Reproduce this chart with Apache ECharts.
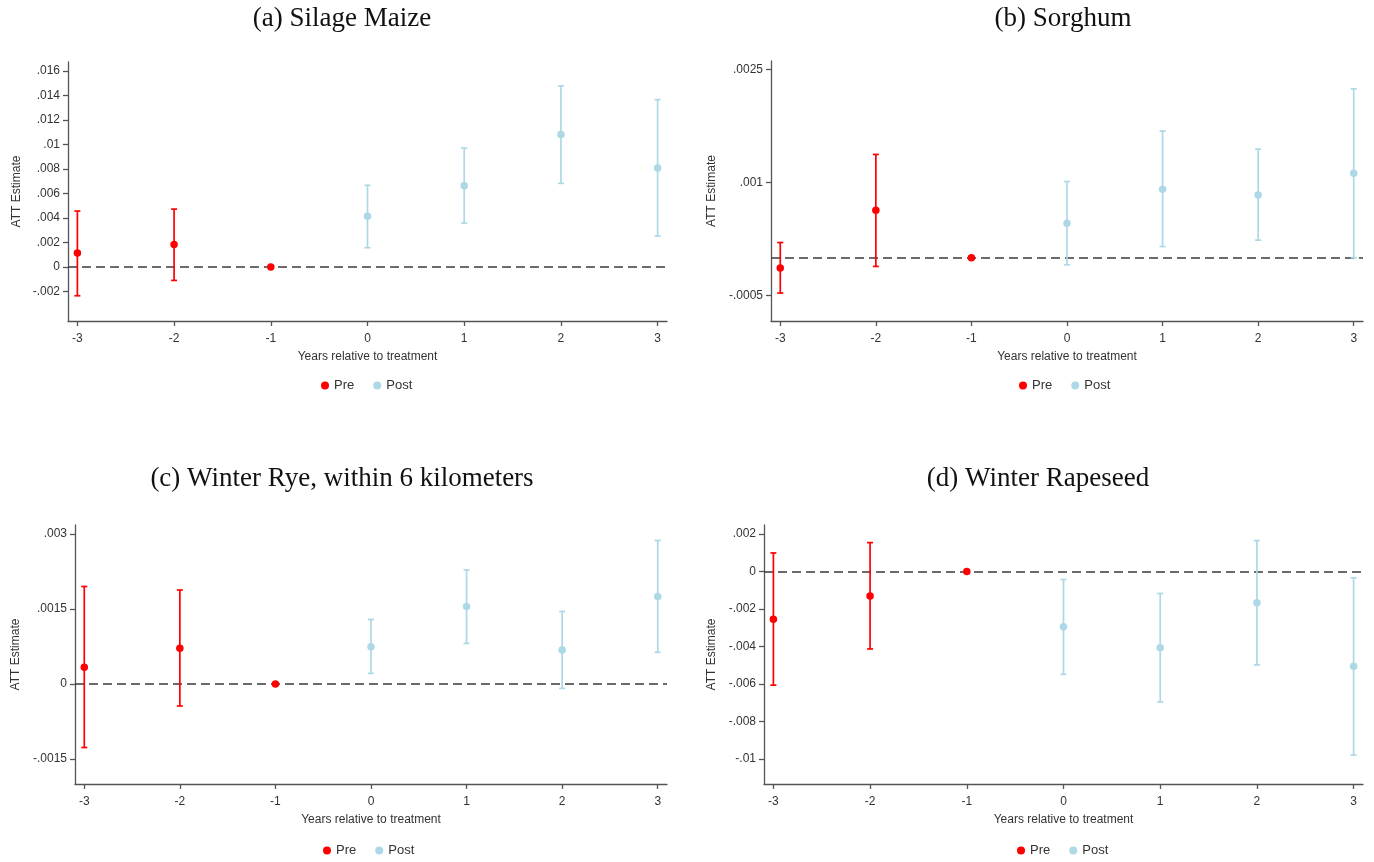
<!DOCTYPE html>
<html>
<head>
<meta charset="utf-8">
<script src="https://cdn.jsdelivr.net/npm/echarts@6/dist/echarts.min.js"></script>
<style>
  html, body { margin: 0; padding: 0; background: #fff; }
  #main { width: 1374px; height: 862px; }
</style>
</head>
<body>
<div id="main"></div>
<script>
// event-time (years relative to treatment)
var years = [-3, -2, -1, 0, 1, 2, 3];

// (a) Silage Maize
var maizeEst = [0.00114, 0.00185, 0, 0.00414, 0.00664, 0.01081, 0.00808];
var maizeLo  = [-0.00234, -0.00109, null, 0.00158, 0.00359, 0.00683, 0.00253];
var maizeHi  = [0.00457, 0.00473, null, 0.00667, 0.00971, 0.01478, 0.01366];

// (b) Sorghum
var sorghumEst = [-0.000138, 0.00063, 0, 0.000458, 0.000909, 0.000833, 0.00112];
var sorghumLo  = [-0.000469, -0.000116, null, -0.000094, 0.000148, 0.000233, 0.0];
var sorghumHi  = [0.000201, 0.00137, null, 0.00101, 0.00168, 0.00144, 0.00224];

// (c) Winter Rye, within 6 km
var ryeEst = [0.000333, 0.000713, 0, 0.000747, 0.00155, 0.00068, 0.00175];
var ryeLo  = [-0.00127, -0.00044, null, 0.000213, 0.000813, -0.000087, 0.000633];
var ryeHi  = [0.00195, 0.00188, null, 0.00129, 0.00228, 0.00145, 0.00287];

// (d) Winter Rapeseed
var rapeEst = [-0.00255, -0.0013, 0, -0.00295, -0.00406, -0.00167, -0.00505];
var rapeLo  = [-0.00606, -0.00413, null, -0.00548, -0.00695, -0.00498, -0.00979];
var rapeHi  = [0.00099, 0.00154, null, -0.00043, -0.00117, 0.00165, -0.00034];

// y tick labels
var maizeTicks   = [-0.002, 0, 0.002, 0.004, 0.006, 0.008, 0.01, 0.012, 0.014, 0.016];
var sorghumTicks = [-0.0005, 0.001, 0.0025];
var ryeTicks     = [-0.0015, 0, 0.0015, 0.003];
var rapeTicks    = [-0.01, -0.008, -0.006, -0.004, -0.002, 0, 0.002];

var PRE = '#ff0000', POST = '#add8e6';
var AXIS = '#555', TXT = '#333';
var SANS = '"Liberation Sans", Arial, sans-serif';

// stata-like number label: .016, -.0015, 0
function stataFmt(v) {
    var s = parseFloat(Number(v).toPrecision(6)).toString();
    return s.replace(/^(-?)0\./, '$1.');
}

var panels = [
    {title: '(a) Silage Maize', est: maizeEst, lo: maizeLo, hi: maizeHi, ticks: maizeTicks,
     grid: {left: 68, top: 62, width: 599, height: 259}, ymin: -0.0044, ymax: 0.01673,
     tx: 337, ty: 0, nameGap: 45, lx: 321, ly: 379},
    {title: '(b) Sorghum', est: sorghumEst, lo: sorghumLo, hi: sorghumHi, ticks: sorghumTicks,
     grid: {left: 771, top: 61, width: 592, height: 260}, ymin: -0.00084, ymax: 0.00261,
     tx: 1058, ty: 0, nameGap: 53, lx: 1019, ly: 379},
    {title: '(c) Winter Rye, within 6 kilometers', est: ryeEst, lo: ryeLo, hi: ryeHi, ticks: ryeTicks,
     grid: {left: 75, top: 525, width: 592, height: 259}, ymin: -0.002, ymax: 0.00318,
     tx: 337, ty: 460, nameGap: 53, lx: 323, ly: 844},
    {title: '(d) Winter Rapeseed', est: rapeEst, lo: rapeLo, hi: rapeHi, ticks: rapeTicks,
     grid: {left: 764, top: 525, width: 599, height: 259}, ymin: -0.01133, ymax: 0.00248,
     tx: 1033, ty: 460, nameGap: 46, lx: 1017, ly: 844}
];

function errBar(params, api) {
    var x = api.value(0);
    var p1 = api.coord([x, api.value(1)]);
    var p2 = api.coord([x, api.value(2)]);
    var st = {stroke: api.visual('color'), lineWidth: 1.7};
    return {
        type: 'group',
        children: [
            {type: 'line', shape: {x1: p1[0], y1: p1[1], x2: p2[0], y2: p2[1]}, style: st},
            {type: 'line', shape: {x1: p1[0] - 3, y1: p1[1], x2: p1[0] + 3, y2: p1[1]}, style: st},
            {type: 'line', shape: {x1: p2[0] - 3, y1: p2[1], x2: p2[0] + 3, y2: p2[1]}, style: st}
        ]
    };
}

var option = {
    animation: false,
    backgroundColor: '#fff',
    title: [], grid: [], xAxis: [], yAxis: [], legend: [], series: []
};

panels.forEach(function (p, i) {
    option.title.push({
        text: p.title, left: p.tx, top: p.ty, textAlign: 'center',
        textStyle: {fontFamily: '"Liberation Serif", "DejaVu Serif", serif', fontWeight: 'normal', fontSize: 27, color: '#111'}
    });
    option.grid.push(p.grid);
    option.xAxis.push({
        gridIndex: i, type: 'value', min: -3.097, max: 3.097,
        name: 'Years relative to treatment', nameLocation: 'middle', nameGap: 30,
        nameTextStyle: {fontFamily: SANS, fontSize: 12, color: TXT},
        axisLine: {onZero: false, lineStyle: {color: AXIS, width: 1.3}},
        axisTick: {customValues: years, length: 5, lineStyle: {color: AXIS, width: 1.3}},
        axisLabel: {customValues: years, margin: 12, fontFamily: SANS, fontSize: 12, color: TXT},
        splitLine: {show: false}
    });
    option.yAxis.push({
        gridIndex: i, type: 'value', min: p.ymin, max: p.ymax,
        name: 'ATT Estimate', nameLocation: 'middle', nameGap: p.nameGap,
        nameTextStyle: {fontFamily: SANS, fontSize: 12, color: TXT},
        axisLine: {show: true, onZero: false, lineStyle: {color: AXIS, width: 1.3}},
        axisTick: {show: true, customValues: p.ticks, length: 5, lineStyle: {color: AXIS, width: 1.3}},
        axisLabel: {customValues: p.ticks, margin: 8, fontFamily: SANS, fontSize: 12, color: TXT, formatter: stataFmt},
        splitLine: {show: false}
    });
    option.legend.push({
        left: p.lx, top: p.ly, orient: 'horizontal', padding: 0,
        icon: 'circle', itemWidth: 8, itemHeight: 8, itemGap: 19,
        textStyle: {fontFamily: SANS, fontSize: 13, color: TXT},
        data: ['Pre', 'Post']
    });

    var preBars = [], postBars = [], prePts = [], postPts = [];
    years.forEach(function (y, k) {
        var isPre = y < 0;
        (isPre ? prePts : postPts).push([y, p.est[k]]);
        if (p.lo[k] !== null) (isPre ? preBars : postBars).push([y, p.lo[k], p.hi[k]]);
    });

    option.series.push({
        type: 'custom', xAxisIndex: i, yAxisIndex: i, renderItem: errBar,
        itemStyle: {color: PRE}, data: preBars, z: 3, silent: true
    });
    option.series.push({
        type: 'custom', xAxisIndex: i, yAxisIndex: i, renderItem: errBar,
        itemStyle: {color: POST}, data: postBars, z: 3, silent: true
    });
    option.series.push({
        name: 'Pre', type: 'scatter', xAxisIndex: i, yAxisIndex: i,
        symbol: 'circle', symbolSize: 7.5, itemStyle: {color: PRE, opacity: 1},
        data: prePts, z: 5,
        markLine: {
            silent: true, symbol: 'none', label: {show: false},
            lineStyle: {type: [9, 5], color: '#3a3a3a', width: 1.5},
            data: [{yAxis: 0}], z: 2
        }
    });
    option.series.push({
        name: 'Post', type: 'scatter', xAxisIndex: i, yAxisIndex: i,
        symbol: 'circle', symbolSize: 7.5, itemStyle: {color: POST, opacity: 1},
        data: postPts, z: 5
    });
});

var chart = echarts.init(document.getElementById('main'), null, {renderer: 'canvas'});
chart.setOption(option);
</script>
</body>
</html>
